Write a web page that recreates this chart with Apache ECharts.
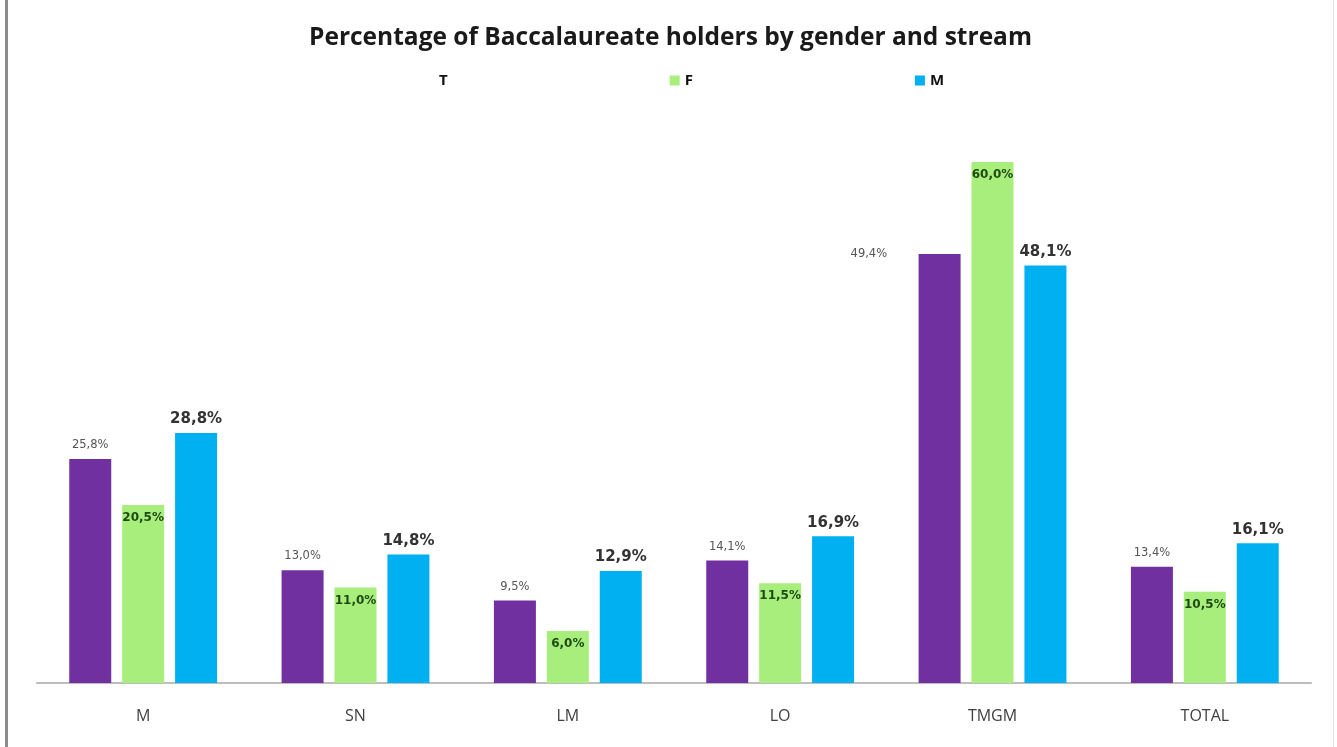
<!DOCTYPE html>
<html>
	<head>
		<meta charset="utf-8">
		<title></title>
		<script src="https://cdn.jsdelivr.net/npm/echarts@6/dist/echarts.min.js"></script>
	</head>
	<body style="margin: 0; overflow: hidden; background: #fff;">
		<div id="main" style="position: absolute; left: 5px; top: 0; width: 1325px; height: 747px; border-left: 3px solid #8c8c8c; border-right: 1px solid #e4e4e4;"></div>
		<script type="text/javascript">
			var categories = ['M', 'SN', 'LM', 'LO', 'TMGM', 'TOTAL'];
			var totalValues = [25.8, 13.0, 9.5, 14.1, 49.4, 13.4];
			var femaleValues = [20.5, 11.0, 6.0, 11.5, 60.0, 10.5];
			var maleValues = [28.8, 14.8, 12.9, 16.9, 48.1, 16.1];

			function pct(v) {
				return v.toFixed(1).replace('.', ',') + '%';
			}

			// T label at TMGM sits to the left of the bar top
			var totalData = totalValues.map(function (v, i) {
				if (categories[i] === 'TMGM') {
					return { value: v, label: { position: [-68, -6] } };
				}
				return v;
			});

			var myChart = echarts.init(document.getElementById('main'));

			var option = {
				animation: false,
				title: {
					text: 'Percentage of Baccalaureate holders by gender and stream',
					left: 'center',
					top: 21,
					textStyle: { fontFamily: 'Open Sans', fontSize: 24.5, fontWeight: 'bold', color: '#1a1a1a' }
				},
				legend: {
					top: 68,
					left: 411,
					itemWidth: 10,
					itemHeight: 10,
					itemGap: 222,
					icon: 'rect',
					textStyle: { fontFamily: 'Open Sans', fontSize: 15, fontWeight: 'bold', color: '#111' },
					data: [
						{ name: 'T', itemStyle: { color: 'rgba(0,0,0,0)' } },
						{ name: 'F' },
						{ name: 'M' }
					]
				},
				grid: {
					left: 29,
					right: 22,
					top: 110,
					bottom: 64
				},
				xAxis: {
					type: 'category',
					data: categories,
					axisLine: { lineStyle: { color: '#bdbdbd', width: 2 } },
					axisTick: { show: false },
					axisLabel: { margin: 25, fontFamily: 'Open Sans', fontSize: 16, color: '#404040' }
				},
				yAxis: {
					type: 'value',
					min: 0,
					max: 66,
					show: false,
					splitLine: { show: false }
				},
				series: [
					{
						name: 'T',
						type: 'bar',
						barWidth: 42,
						barGap: '26%',
						itemStyle: { color: '#7030a0' },
						label: {
							show: true, position: 'top', distance: 8,
							fontFamily: 'DejaVu Sans', fontSize: 11.5, color: '#555',
							formatter: function (p) { return pct(p.value); }
						},
						data: totalData
					},
					{
						name: 'F',
						type: 'bar',
						barWidth: 42,
						itemStyle: { color: '#a8ee7c' },
						label: {
							show: true, position: 'insideTop', distance: 7,
							fontFamily: 'DejaVu Sans', fontSize: 12, fontWeight: 'bold', color: '#1f4a12',
							formatter: function (p) { return pct(p.value); }
						},
						data: femaleValues
					},
					{
						name: 'M',
						type: 'bar',
						barWidth: 42,
						itemStyle: { color: '#00b0f0' },
						label: {
							show: true, position: 'top', distance: 6,
							fontFamily: 'DejaVu Sans', fontSize: 15, fontWeight: 'bold', color: '#333',
							formatter: function (p) { return pct(p.value); }
						},
						data: maleValues
					}
				]
			};
			myChart.setOption(option);
		</script>
	</body>
</html>
